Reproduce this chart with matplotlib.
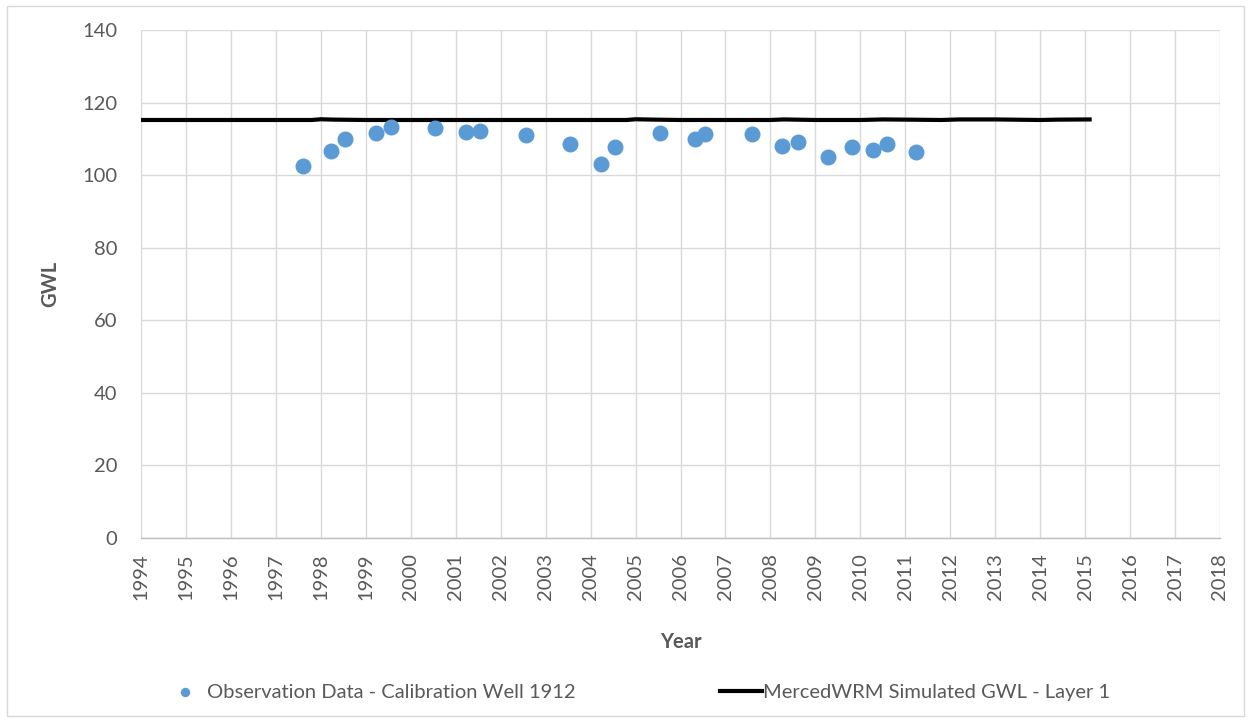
import matplotlib
matplotlib.use("Agg")
import matplotlib.pyplot as plt
import numpy as np

# Observation data (decimal year, GWL)
obs_year = [1997.60, 1998.23, 1998.54, 1999.23, 1999.56, 2000.54, 2001.23, 2001.54,
            2002.56, 2003.54, 2004.23, 2004.54, 2005.54, 2006.32, 2006.54, 2007.59,
            2008.26, 2008.61, 2009.28, 2009.81, 2010.28, 2010.59, 2011.24]
obs_gwl = [102.5, 106.6, 109.9, 111.6, 113.2, 112.9, 111.8, 112.1,
           111.0, 108.5, 103.0, 107.7, 111.6, 109.9, 111.3, 111.3,
           108.0, 109.1, 105.0, 107.7, 106.9, 108.5, 106.3]

# Simulated GWL - Layer 1 (decimal year, GWL)
sim_year = [1994.0, 1995.0, 1996.0, 1997.0, 1997.8, 1998.0, 1998.3, 1999.0, 2000.0,
            2001.0, 2002.0, 2003.0, 2004.0, 2004.8, 2005.0, 2005.4, 2006.0, 2007.0,
            2008.0, 2008.3, 2009.0, 2010.0, 2010.5, 2011.0, 2011.8, 2012.2, 2013.0,
            2014.0, 2014.4, 2015.1]
sim_gwl = [115.2, 115.2, 115.2, 115.2, 115.2, 115.4, 115.3, 115.2, 115.2,
           115.2, 115.2, 115.2, 115.2, 115.2, 115.4, 115.3, 115.2, 115.2,
           115.2, 115.35, 115.2, 115.2, 115.35, 115.3, 115.2, 115.35, 115.35,
           115.2, 115.3, 115.35]

year_ticks = list(range(1994, 2019))
gwl_ticks = [0, 20, 40, 60, 80, 100, 120, 140]

plt.rcParams['font.family'] = ['Lato', 'DejaVu Sans']

fig = plt.figure(figsize=(12.51, 7.23), dpi=100)
W, H = 1251, 723
ax = fig.add_axes([141 / W, 1 - 538 / H, (1220 - 141) / W, (538 - 30) / H])

ax.set_xlim(1994, 2018)
ax.set_ylim(0, 140)
ax.set_xticks(year_ticks)
ax.set_xticklabels([str(y) for y in year_ticks], rotation=90)
ax.set_yticks(gwl_ticks)
ax.grid(True, color='#d9d9d9', linewidth=1.0)
ax.set_axisbelow(True)
for s in ['top', 'right', 'left']:
    ax.spines[s].set_visible(False)
ax.spines['bottom'].set_color('#bfbfbf')
ax.spines['bottom'].set_linewidth(1.0)
ax.tick_params(axis='both', length=0, labelsize=14.5, labelcolor='#595959')
ax.tick_params(axis='x', pad=11)
ax.tick_params(axis='y', pad=17)

ax.scatter(obs_year, obs_gwl, s=110, color='#5B9BD5', zorder=3,
           label='Observation Data - Calibration Well 1912')
ax.plot(sim_year, sim_gwl, color='black', linewidth=3, zorder=2,
        label='MercedWRM Simulated GWL - Layer 1')

ax.set_xlabel('Year', fontsize=14.5, fontweight='bold', color='#595959', labelpad=23)
ax.set_ylabel('GWL', fontsize=14.5, fontweight='bold', color='#595959', labelpad=16)

h, l = ax.get_legend_handles_labels()
leg1 = fig.legend([h[0]], [l[0]], loc='center left',
                  bbox_to_anchor=(175 / W, 1 - 692 / H), frameon=False,
                  fontsize=14.5, handlelength=1.0, handletextpad=0.6,
                  markerscale=0.55, borderpad=0, borderaxespad=0)
leg2 = fig.legend([h[1]], [l[1]], loc='center left',
                  bbox_to_anchor=(720 / W, 1 - 692 / H), frameon=False,
                  fontsize=14.5, handlelength=2.1, handletextpad=0.05,
                  borderpad=0, borderaxespad=0)
for lg in (leg1, leg2):
    for t in lg.get_texts():
        t.set_color('#595959')

# outer border
rect = plt.Rectangle((7 / W, 1 - 716 / H), (1244 - 7) / W, (716 - 6) / H,
                     transform=fig.transFigure, fill=False, edgecolor='#d9d9d9', linewidth=1)
fig.patches.append(rect)

fig.savefig('out.png', dpi=100)
